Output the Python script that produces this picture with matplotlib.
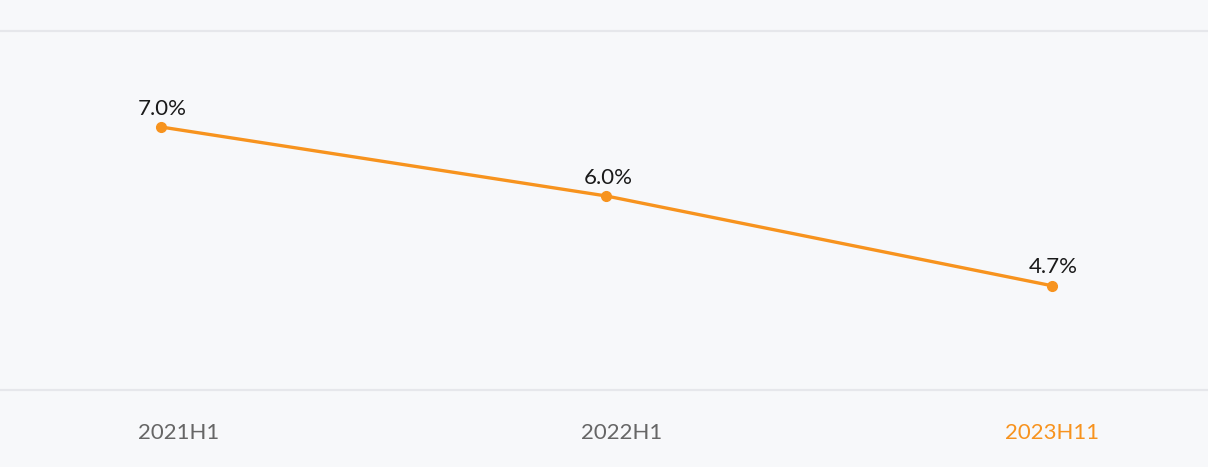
import matplotlib
matplotlib.use("Agg")
import matplotlib.pyplot as plt

categories = ["2021H1", "2022H1", "2023H11"]
values = [7.0, 6.0, 4.7]
labels = ["7.0%", "6.0%", "4.7%"]

bg = "#f7f8fa"
orange = "#f7931e"

fig = plt.figure(figsize=(12.08, 4.67), dpi=100, facecolor=bg)
ax = fig.add_axes([0, 77/467, 1, 359/467])
ax.set_facecolor(bg)

x = list(range(len(categories)))
ax.plot(x, values, color=orange, lw=2.4, marker="o", ms=7, zorder=3)
for xi, v, lab in zip(x, values, labels):
    ax.annotate(lab, (xi, v), xytext=(1, 6), textcoords="offset points",
                ha="center", va="bottom", fontsize=16, color="#1a1a1a",
                family=["Lato", "DejaVu Sans"])

ax.set_xlim(-0.361, 2.350)
ax.set_ylim(3.19, 8.39)
ax.set_yticks([])
# category labels sit slightly right of the points in the reference
label_shift = [0.04, 0.035, 0.0]
ax.set_xticks([xi + s for xi, s in zip(x, label_shift)])
ax.set_xticklabels(categories, fontsize=16, family=["Lato", "DejaVu Sans"])
for t, c in zip(ax.get_xticklabels(), ["#666666", "#666666", orange]):
    t.set_color(c)
ax.tick_params(axis="x", length=0, pad=24)
for s in ["left", "right"]:
    ax.spines[s].set_visible(False)
for s in ["top", "bottom"]:
    ax.spines[s].set_color("#e6e7eb")
    ax.spines[s].set_linewidth(1.6)

fig.savefig("out.png", dpi=100, facecolor=bg)
